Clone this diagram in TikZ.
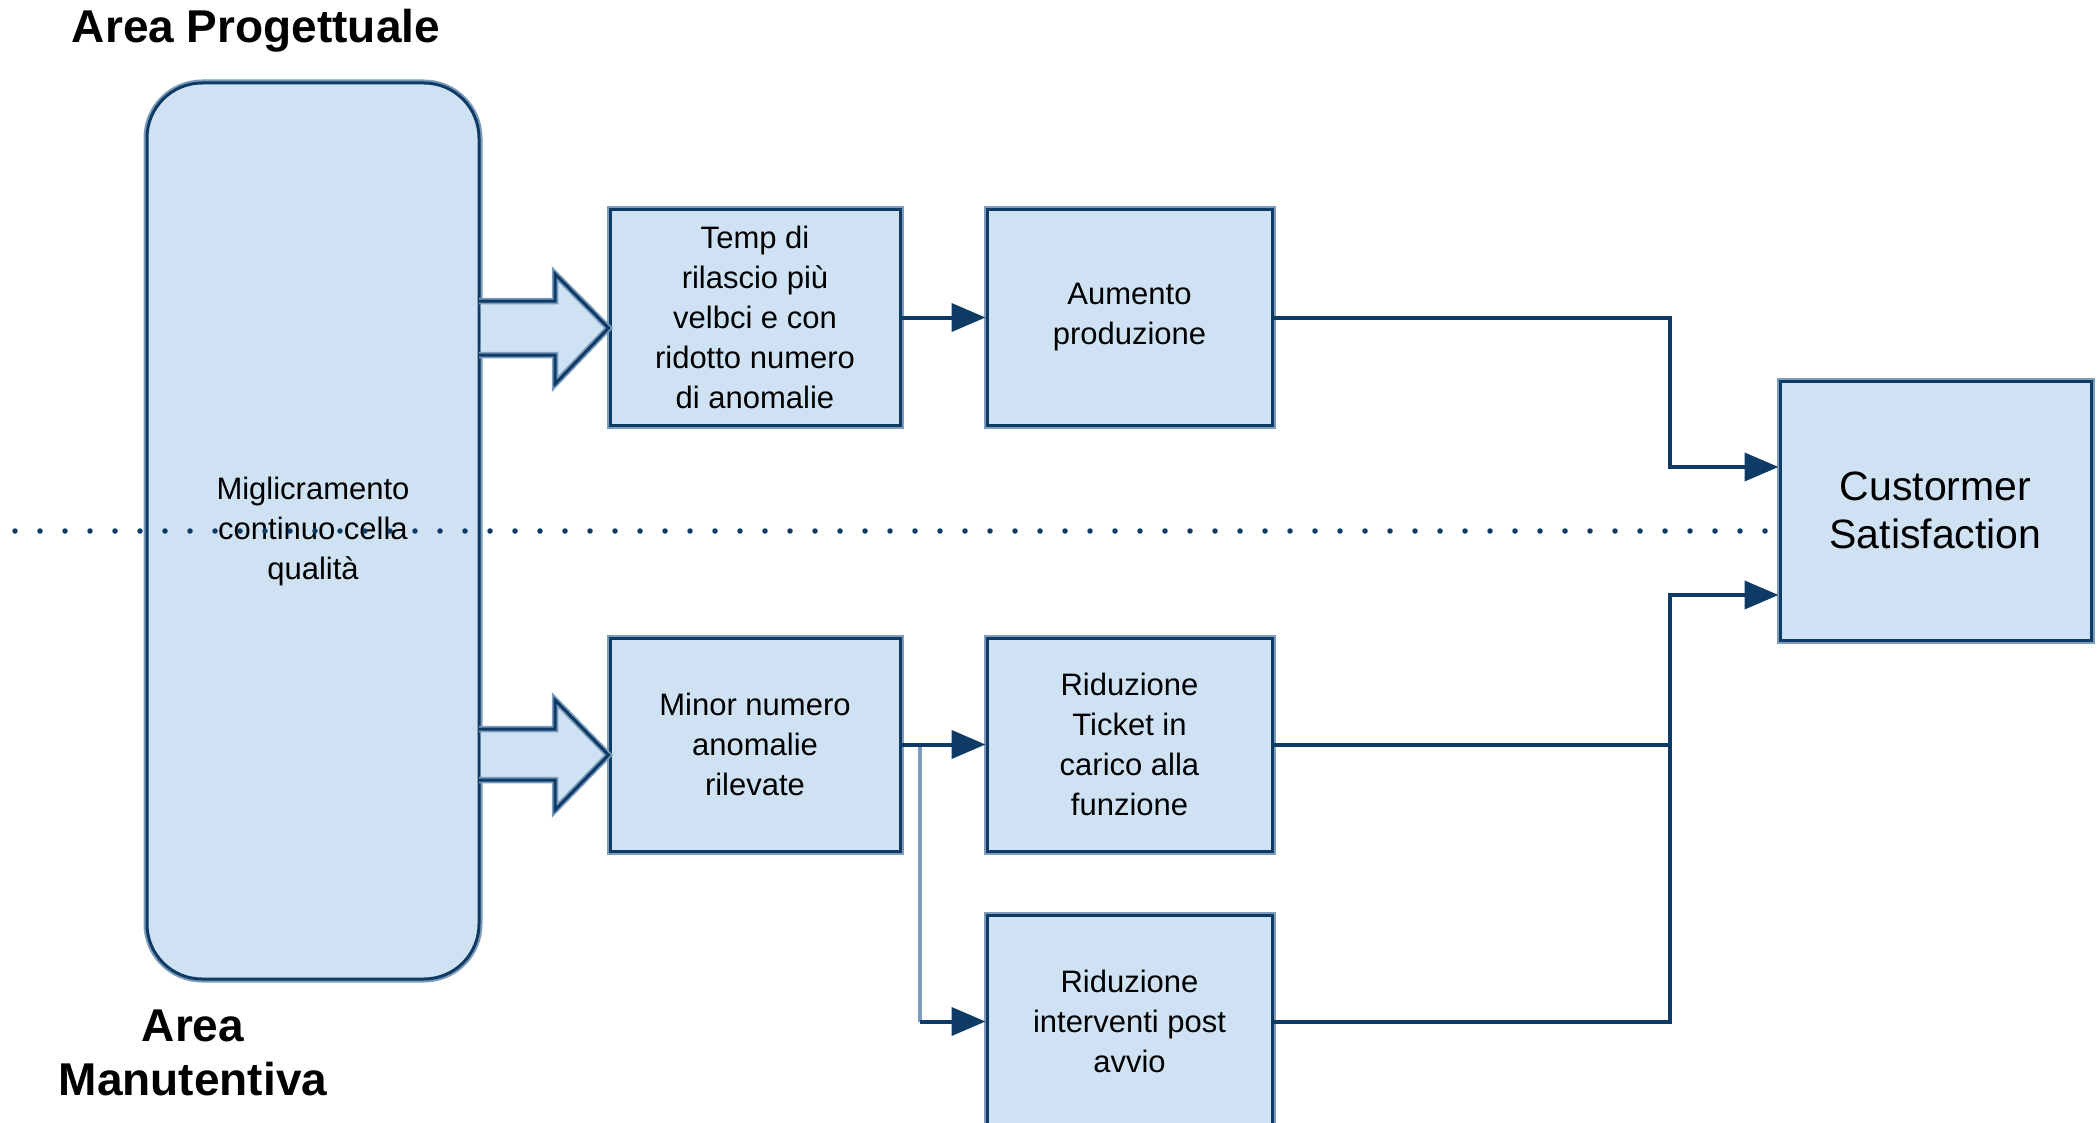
\documentclass[tikz,border=0pt]{standalone}
\usepackage{fontspec}
\setmainfont{Liberation Sans}
\usetikzlibrary{arrows.meta}
\definecolor{fillb}{HTML}{CFE2F3}
\definecolor{darkb}{HTML}{0E3B66}
\definecolor{lightb}{HTML}{7D9BBA}
\begin{document}
\begin{tikzpicture}[x=1pt,y=-1pt,
  boxtext/.style={font=\fontsize{31}{40}\selectfont, align=center, text=black},
  box/.style={rectangle, draw=darkb, line width=3pt, fill=fillb,
    preaction={draw=lightb, line width=7pt}, inner sep=0pt, boxtext},
  bigbox/.style={box, rounded corners=55pt},
  conn/.style={draw=darkb, line width=4pt, -{Triangle[length=34pt,width=28pt]}},
  connplain/.style={draw=darkb, line width=4pt},
  branch/.style={draw=lightb, line width=4.5pt},
  blockfill/.style={fill=fillb},
  blockline/.style={draw=darkb, line width=3pt, line join=miter,
    preaction={draw=lightb, line width=6.5pt}},
  titletext/.style={font=\bfseries\fontsize{46}{54}\selectfont, align=center, text=black},
  dotline/.style={draw=darkb, line width=5.5pt, dash pattern=on 0pt off 25pt, line cap=round}
]
\useasboundingbox (0,0) rectangle (2098,1123);

% main boxes
\node[bigbox, minimum width=332pt, minimum height=896pt] (big) at (313,531)
  {Miglicramento\\continuo cella\\qualità};
\node[box, minimum width=290pt, minimum height=215pt] (temp) at (755,317.5)
  {Temp di\\rilascio più\\velbci e con\\ridotto numero\\di anomalie};
\node[box, minimum width=285pt, minimum height=215pt] (aum) at (1129.5,317.5)
  {Aumento\\produzione};
\node[box, minimum width=290pt, minimum height=213pt] (minor) at (755,744.5)
  {Minor numero\\anomalie\\rilevate};
\node[box, minimum width=285pt, minimum height=213pt] (tick) at (1129.5,744.5)
  {Riduzione\\Ticket in\\carico alla\\funzione};
\node[box, minimum width=285pt, minimum height=213pt] (interv) at (1129.5,1021.5)
  {Riduzione\\interventi post\\avvio};
\node[box, minimum width=311pt, minimum height=259pt,
  font=\fontsize{41}{48}\selectfont] (cust) at (1935.5,510.5)
  {Custormer\\Satisfaction};

% block arrows
\path[blockfill] (480.5,301) -- (555,301) -- (555,274) -- (temp.west |- 0,328)
  -- (555,384) -- (555,355) -- (480.5,355) -- cycle;
\draw[blockline] (479,301) -- (555,301) -- (555,274) -- (temp.west |- 0,328)
  -- (555,384) -- (555,355) -- (479,355);
\path[blockfill] (480.5,729) -- (555,729) -- (555,700) -- (minor.west |- 0,755)
  -- (555,810) -- (555,780) -- (480.5,780) -- cycle;
\draw[blockline] (479,729) -- (555,729) -- (555,700) -- (minor.west |- 0,755)
  -- (555,810) -- (555,780) -- (479,780);

% connectors
\coordinate (jx1) at (1670,467);
\coordinate (jx2) at (1670,595);
\coordinate (br) at (920,744.5);
\draw[conn] (temp.east) -- (aum.west);
\draw[conn] (aum.east) -| (jx1) -- (cust.west |- jx1);
\draw[connplain] (interv.east) -| (jx2);
\draw[conn] (tick.east) -| (jx2) -- (cust.west |- jx2);
\draw[branch] (br) -- (br |- interv.west);
\draw[conn] (minor.east) -- (tick.west);
\draw[conn] (br |- interv.west) -- (interv.west);

% dotted separator
\coordinate (dl) at (15,531);
\coordinate (dr) at (1775,531);
\draw[dotline] (dl) -- (dr);

% titles
\node[titletext] (tp) at (256,31) {Area Progettuale};
\node[titletext] (tm) at (193,1053) {Area\\Manutentiva};
\end{tikzpicture}
\end{document}
